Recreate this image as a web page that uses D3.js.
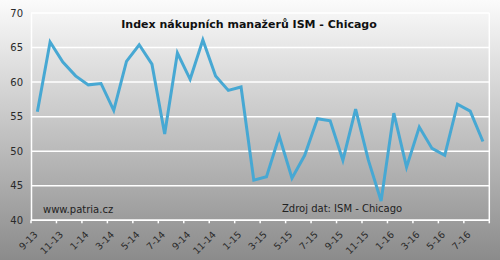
<!DOCTYPE html>
<html>
<head>
<meta charset="utf-8">
<script src="https://cdn.jsdelivr.net/npm/d3@7"></script>
<style>
  body { margin: 0; background: #fff; }
  text { font-family: "DejaVu Sans", Verdana, sans-serif; }
</style>
</head>
<body>
<script>
//width and height
var w = 500;
var h = 260;

//months, one per point (9-13 .. 8-16)
var months = ["9-13", "10-13", "11-13", "12-13", "1-14", "2-14", "3-14", "4-14", "5-14", "6-14",
              "7-14", "8-14", "9-14", "10-14", "11-14", "12-14", "1-15", "2-15", "3-15", "4-15",
              "5-15", "6-15", "7-15", "8-15", "9-15", "10-15", "11-15", "12-15", "1-16", "2-16",
              "3-16", "4-16", "5-16", "6-16", "7-16", "8-16"];

//index values
var values = [55.7, 65.8, 62.9, 60.9, 59.6, 59.8, 55.9, 63.0, 65.4, 62.6,
              52.5, 64.2, 60.4, 66.1, 60.9, 58.8, 59.3, 45.8, 46.3, 52.2,
              46.1, 49.4, 54.7, 54.4, 48.7, 56.1, 48.7, 42.8, 55.5, 47.7,
              53.5, 50.4, 49.4, 56.8, 55.8, 51.4];

var yTicks = [40, 45, 50, 55, 60, 65, 70];

//plot area
var plotL = 31, plotR = 489.3, plotT = 13, plotB = 220.3;

var svg = d3.select("body")
            .append("svg")
            .attr("width", w)
            .attr("height", h);

//background gradient
var defs = svg.append("defs");
var grad = defs.append("linearGradient")
            .attr("id", "bg")
            .attr("x1", 0).attr("y1", 0)
            .attr("x2", 0).attr("y2", 1);
grad.append("stop").attr("offset", "0%").attr("stop-color", "#fbfbfb");
grad.append("stop").attr("offset", "100%").attr("stop-color", "#8b8b8b");

svg.append("rect")
    .attr("width", w)
    .attr("height", h)
    .attr("fill", "url(#bg)");

var x = d3.scaleBand()
            .domain(months)
            .range([plotL, plotR]);

var y = d3.scaleLinear()
            .domain([40, 70])
            .range([plotB, plotT]);

//grid lines
svg.selectAll("line.grid")
    .data(yTicks)
    .enter()
    .append("line")
    .attr("class", "grid")
    .attr("x1", plotL)
    .attr("x2", plotR)
    .attr("y1", function(d) { return y(d); })
    .attr("y2", function(d) { return y(d); })
    .style("stroke", "#ffffff")
    .style("stroke-width", 1.5);

//right border
svg.append("line")
    .attr("x1", plotR).attr("x2", plotR)
    .attr("y1", plotT).attr("y2", plotB)
    .style("stroke", "#ffffff")
    .style("stroke-width", 1.5);

//y axis
var yAxis = d3.axisLeft(y)
            .tickValues(yTicks)
            .tickSize(0)
            .tickPadding(8);
var gy = svg.append("g")
    .attr("transform", "translate(" + plotL + ",0)")
    .call(yAxis);
gy.select(".domain").style("stroke", "#ffffff").style("stroke-width", 1.5);
gy.selectAll("text")
    .style("font-family", "DejaVu Sans")
    .style("font-size", "10px")
    .style("fill", "#2a2a2a");

//x axis: ticks at band boundaries every 2 months
var tickPos = d3.range(0, months.length + 1, 2).map(function(i) {
    return plotL + i * x.bandwidth();
});
svg.append("line")
    .attr("x1", plotL).attr("x2", plotR)
    .attr("y1", plotB).attr("y2", plotB)
    .style("stroke", "#ffffff")
    .style("stroke-width", 1.5);
svg.selectAll("line.xtick")
    .data(tickPos)
    .enter()
    .append("line")
    .attr("class", "xtick")
    .attr("x1", function(d) { return d; })
    .attr("x2", function(d) { return d; })
    .attr("y1", plotB)
    .attr("y2", plotB + 3)
    .style("stroke", "#ffffff")
    .style("stroke-width", 1.5);

//x labels every other month
var labelMonths = months.filter(function(d, i) { return i % 2 == 0 && i < 35; });
svg.selectAll("text.xlab")
    .data(labelMonths)
    .enter()
    .append("text")
    .attr("class", "xlab")
    .attr("transform", function(d) {
        return "translate(" + (x(d) + x.bandwidth() / 2 + 1) + "," + (plotB + 15) + ") rotate(-45)";
    })
    .attr("text-anchor", "end")
    .style("font-size", "9.5px")
    .style("fill", "#2a2a2a")
    .text(function(d) { return d; });

//the index line
var line = d3.line()
            .x(function(d, i) { return x(months[i]) + x.bandwidth() / 2; })
            .y(function(d) { return y(d); });

svg.append("path")
    .datum(values)
    .attr("d", line)
    .style("fill", "none")
    .style("stroke", "#47a8d3")
    .style("stroke-width", 3)
    .style("stroke-linejoin", "miter");

//title
svg.append("text")
    .attr("x", 249)
    .attr("y", 28)
    .attr("text-anchor", "middle")
    .style("font-size", "11px")
    .style("font-weight", "bold")
    .style("fill", "#111")
    .text("Index nákupních manažerů ISM - Chicago");

//source notes
svg.append("text")
    .attr("x", 43)
    .attr("y", 213)
    .style("font-size", "10px")
    .style("fill", "#222")
    .text("www.patria.cz");

svg.append("text")
    .attr("x", 282)
    .attr("y", 212)
    .style("font-size", "10px")
    .style("fill", "#222")
    .text("Zdroj dat: ISM - Chicago");
</script>
</body>
</html>
